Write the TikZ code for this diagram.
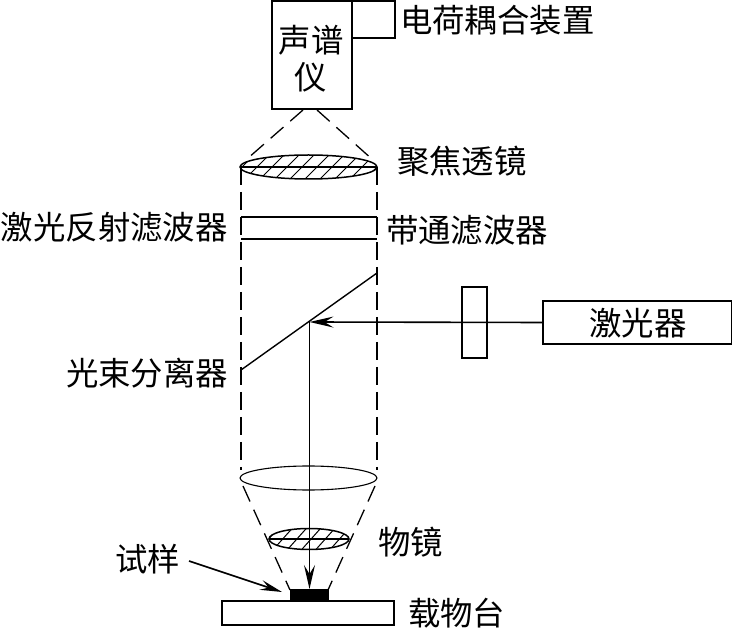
\documentclass[tikz,border=0pt]{standalone}
\usepackage{fontspec}
\setmainfont{Noto Sans CJK SC}
\usetikzlibrary{arrows.meta,shapes.geometric}
\tikzset{
  lin/.style={line width=1.4pt,black},
  ray/.style={line width=1.6pt,black},
  dsh/.style={line width=1.3pt,black,dash pattern=on 18pt off 7pt},
  dshs/.style={line width=1.3pt,black,dash pattern=on 17pt off 9pt},
  box/.style={draw,line width=1.5pt,rectangle,inner sep=0pt,outer sep=0pt,anchor=north west},
  lens/.style={draw,line width=1.5pt,ellipse,inner sep=0pt,outer sep=0pt},
  lenst/.style={draw,line width=1.1pt,ellipse,inner sep=0pt,outer sep=0pt},
  lbl/.style={font=\fontsize{32.4}{34}\selectfont,inner sep=0pt,outer sep=0pt},
  hatchline/.style={line width=1pt,black},
  sharp/.style={-{Stealth[length=24pt,width=11pt,inset=9pt]}},
}
\begin{document}
\begin{tikzpicture}[x=1pt,y=-1pt]
\useasboundingbox (0,0) rectangle (732,628);
% boxes
\node[box,minimum width=80pt,minimum height=108pt] (spec) at (272,1) {};
\node[box,minimum width=43pt,minimum height=37pt] (ccd) at (352,1) {};
\node[box,minimum width=189pt,minimum height=43pt] (laser) at (543,301) {};
\node[box,minimum width=25pt,minimum height=71pt] (shut) at (462,287) {};
\node[box,minimum width=172pt,minimum height=24pt] (stage) at (222,601) {};
\node[box,fill=black,minimum width=37pt,minimum height=11pt] (sample) at (291,590) {};
% lenses
\node[lens,minimum width=137pt,minimum height=24pt] (focus) at (308.5,167) {};
\node[lenst,minimum width=137pt,minimum height=24pt] (coll) at (308.5,478) {};
\node[lens,minimum width=80pt,minimum height=21pt] (obj) at (309,539) {};
% hatching
\begin{scope}
\clip (308.5,167) ellipse [x radius=68.5,y radius=12];
\foreach \i in {0,...,10}{\draw[hatchline] ({226+15*\i},183) -- ({226+15*\i+32},151);}
\end{scope}
\begin{scope}
\clip (309,539) ellipse [x radius=40,y radius=10.5];
\foreach \i in {0,...,6}{\draw[hatchline] ({256+14.2*\i},553) -- ({256+14.2*\i+25},525);}
\end{scope}
\draw[lin] (focus.west) -- (focus.east);
\draw[lin] (obj.west) -- (obj.east);
% coordinates
\coordinate (fl) at (241,167);
\coordinate (fr) at (377,167);
\coordinate (cl) at (241,470);
\coordinate (cr) at (377,470);
\coordinate (s1) at (303,110);
\coordinate (s2) at (317,110);
\coordinate (f1) at (247,159);
\coordinate (f2) at (373,160);
\coordinate (bsA) at (241,370);
\coordinate (bsB) at (377,273);
\coordinate (hit) at (309.5,322);
\coordinate (m1) at (241,217);
\coordinate (m2) at (377,217);
\coordinate (n1) at (241,239);
\coordinate (n2) at (377,239);
\coordinate (d1) at (243,486);
\coordinate (d2) at (375,486);
\coordinate (e1) at (290,590);
\coordinate (e2) at (328,590);
\coordinate (arrS) at (189,561);
\coordinate (arrE) at (282,592);
\coordinate (beamE) at (309.5,589);
% dashed beams
\draw[dshs] (s1) -- (f1);
\draw[dshs] (s2) -- (f2);
\draw[dsh] (fl) -- (cl);
\draw[dsh] (fr) -- (cr);
\draw[dshs] (d1) -- (e1);
\draw[dshs] (d2) -- (e2);
% filters and splitter
\draw[lin] (m1) -- (m2);
\draw[lin] (n1) -- (n2);
\draw[lin] (bsA) -- (bsB);
% rays
\draw[ray,sharp] (laser.west) -- (hit);
\draw[ray,sharp] (hit) -- (beamE);
\draw[ray,-{Stealth[length=22pt,width=10pt,inset=8pt]}] (arrS) -- (arrE);
% labels
\node[lbl] (t1) at (311,40) {声谱};
\node[lbl] (t2) at (311,77) {仪};
\node[lbl,anchor=west] (t3) at (400,20) {电荷耦合装置};
\node[lbl,anchor=west] (t4) at (397,161) {聚焦透镜};
\node[lbl,anchor=west] (t5) at (1,227) {激光反射滤波器};
\node[lbl,anchor=west] (t6) at (386,230) {带通滤波器};
\node[lbl] (t7) at (638,323) {激光器};
\node[lbl,anchor=west] (t8) at (66,373) {光束分离器};
\node[lbl,anchor=west] (t9) at (115,559) {试样};
\node[lbl,anchor=west] (t10) at (378,542) {物镜};
\node[lbl,anchor=west] (t11) at (408,613) {载物台};
\end{tikzpicture}
\end{document}
